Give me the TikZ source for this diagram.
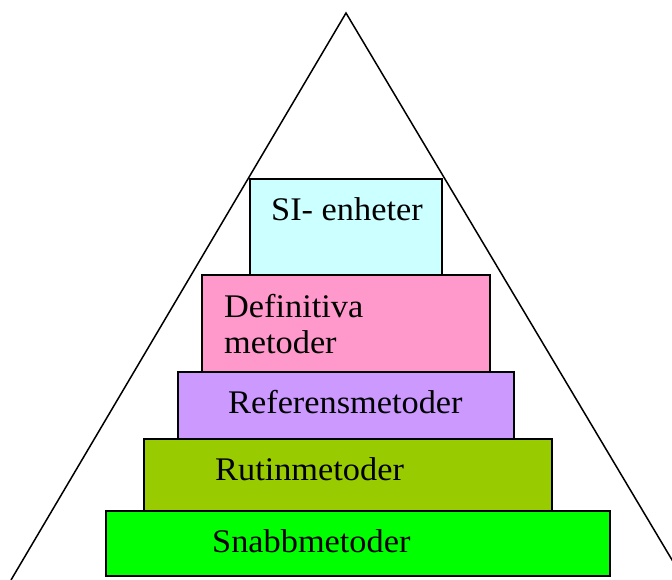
\documentclass[tikz,border=0pt]{standalone}
\usepackage{fontspec}
\setmainfont[FakeStretch=1.04]{Liberation Serif}
\begin{document}
\begin{tikzpicture}[x=1pt,y=-1pt,
  box/.style={draw=black, line width=1.6pt, inner sep=0pt, outer sep=0pt},
  lbl/.style={anchor=base west, inner sep=0pt, font=\fontsize{33}{38}\selectfont}]
\definecolor{sicol}{HTML}{CCFFFF}
\definecolor{defcol}{HTML}{FF99CC}
\definecolor{refcol}{HTML}{CC99FF}
\definecolor{rutcol}{HTML}{99CC00}
\definecolor{snabcol}{HTML}{00FF00}
\useasboundingbox (0,0) rectangle (672,579);
\begin{scope}
\clip (0,0) rectangle (672,579);
\coordinate (apex) at (346,13);
\coordinate (bl) at (11,580);
\coordinate (br) at (684,580);
\draw[line width=1.5pt] (bl) -- (apex) -- (br);
\end{scope}
\node[box, fill=sicol, minimum width=192pt, minimum height=96pt] (si) at (346,227) {};
\node[box, fill=defcol, minimum width=288pt, minimum height=97pt] (def) at (346,323.5) {};
\node[box, fill=refcol, minimum width=336pt, minimum height=67pt] (ref) at (346,405.5) {};
\node[box, fill=rutcol, minimum width=408pt, minimum height=72pt] (rut) at (348,475) {};
\node[box, fill=snabcol, minimum width=504pt, minimum height=65pt] (snab) at (358,543.5) {};
\node[lbl] (tsi) at (271,220) {SI- enheter};
\node[lbl] (tdef1) at (224,317) {Definitiva};
\node[lbl] (tdef2) at (224,353) {metoder};
\node[lbl] (tref) at (228,413) {Referensmetoder};
\node[lbl] (trut) at (215,480) {Rutinmetoder};
\node[lbl] (tsnab) at (212,552) {Snabbmetoder};
\end{tikzpicture}
\end{document}
